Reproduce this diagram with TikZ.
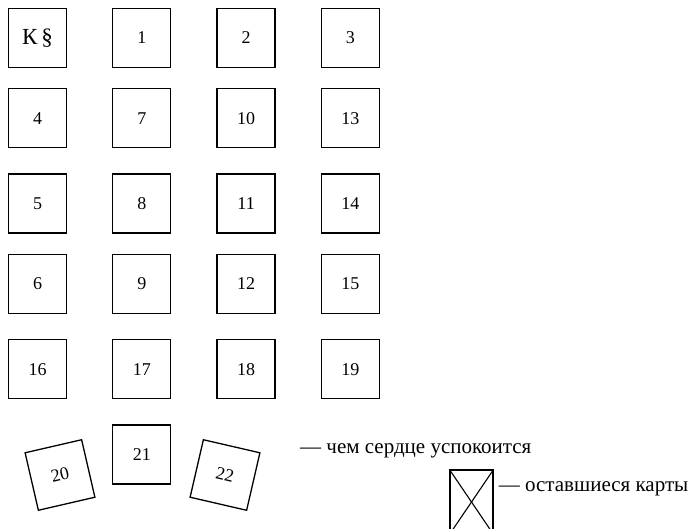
\documentclass[tikz,border=0pt]{standalone}
\usepackage{fontspec}
\setmainfont{Liberation Serif}
\usetikzlibrary{positioning}
\newcommand{\cardfont}{\fontsize{18}{20}\selectfont}
\newcommand{\notefont}{\fontsize{21}{23}\selectfont}

\begin{document}
\begin{tikzpicture}[
    x=1pt, y=-1pt,
    node distance=20pt and 45pt,
    card/.style={draw, line width=1.3pt, rectangle, minimum width=58pt, minimum height=59pt, inner sep=0pt, font=\cardfont},
    note/.style={font=\notefont, inner sep=0pt, anchor=west},
  ]
    \useasboundingbox (0,0) rectangle (694,528);
    \clip (0,0) rectangle (694,528);

    \node[card] (ks) at (37.5,38) {\fontsize{23}{25}\selectfont К\,§};
    \node[card, right=of ks] (c1) {1};
    \node[card, right=of c1] (c2) {2};
    \node[card, right=of c2] (c3) {3};

    \node[card, below=of ks] (c4) {4};
    \node[card, below=of c1] (c7) {7};
    \node[card, below=of c2] (c10) {10};
    \node[card, below=of c3] (c13) {13};

    \node[card, below=25pt of c4] (c5) {5};
    \node[card, below=25pt of c7] (c8) {8};
    \node[card, below=25pt of c10] (c11) {11};
    \node[card, below=25pt of c13] (c14) {14};

    \node[card, below=of c5] (c6) {6};
    \node[card, below=of c8] (c9) {9};
    \node[card, below=of c11] (c12) {12};
    \node[card, below=of c14] (c15) {15};

    \node[card, below=25pt of c6] (c16) {16};
    \node[card, below=25pt of c9] (c17) {17};
    \node[card, below=25pt of c12] (c18) {18};
    \node[card, below=25pt of c15] (c19) {19};

    % the last three cards
    \node[card, below=25pt of c17] (c21) {21};
    \node[card, rotate=13] (c20) at (60,475) {20};
    \node[card, rotate=-13] (c22) at (225,475) {22};

    % legend
    \node[note] (heart) at (300,451) {— чем сердце успокоится};
    \node[draw, line width=1.3pt, rectangle, minimum width=43pt, minimum height=64pt, inner sep=0pt] (rest) at (471.5,502) {};
    \draw[line width=1.1pt] (rest.north west) -- (rest.south east);
    \draw[line width=1.1pt] (rest.north east) -- (rest.south west);
    \node[note, right=5pt of rest.east, yshift=13pt] (restnote) {— оставшиеся карты};
  \end{tikzpicture}
\end{document}
